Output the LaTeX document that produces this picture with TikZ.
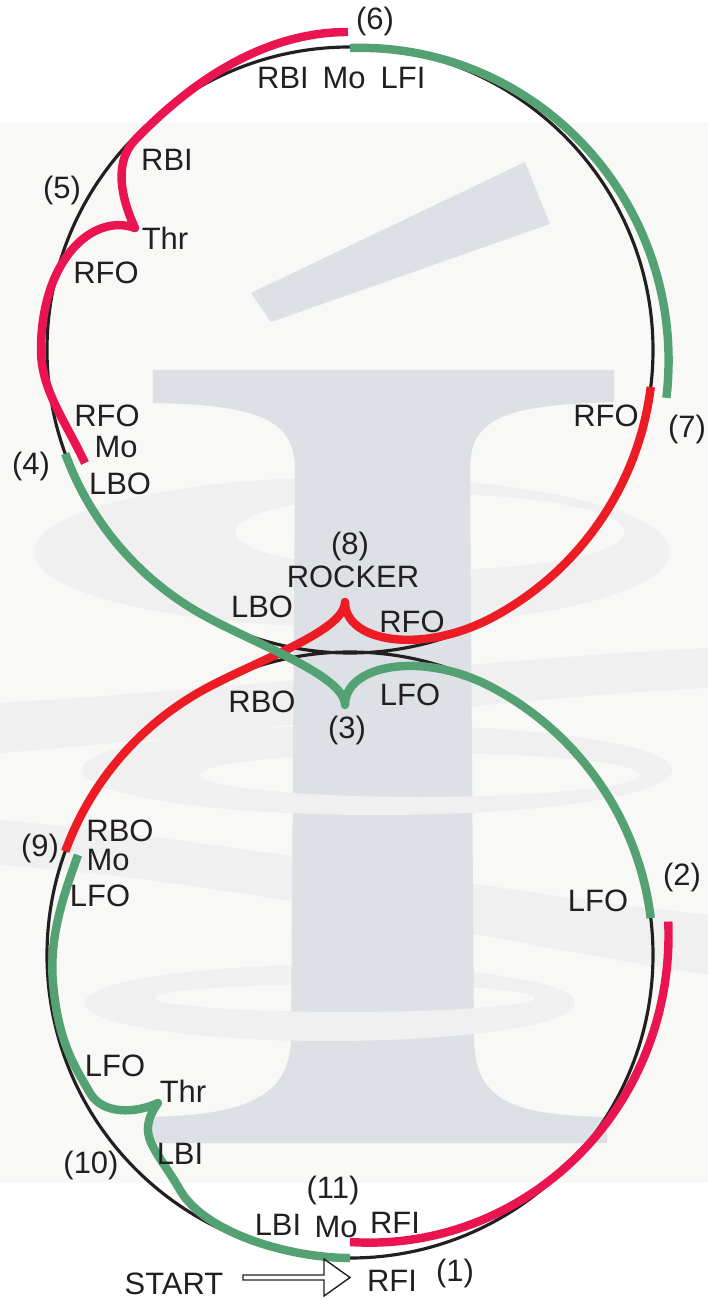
\documentclass[tikz,border=0pt]{standalone}
\usepackage{fontspec}
\setmainfont{Liberation Sans}
\usetikzlibrary{calc}
\definecolor{ink}{RGB}{35,31,32}
\definecolor{skgreen}{RGB}{84,162,116}
\definecolor{skcrimson}{RGB}{234,21,80}
\definecolor{skred}{RGB}{237,28,36}
\definecolor{rinkgrey}{RGB}{248,248,246}
\definecolor{logogrey}{RGB}{221,225,229}
\definecolor{swirlgrey}{RGB}{240,240,240}
\tikzset{
  edge/.style={line width=2.4pt,line join=round},
  lbl/.style={inner sep=0pt,text=ink,font=\fontsize{8.8}{10}\selectfont},
}
\begin{document}
\begin{tikzpicture}
  \useasboundingbox (-3.50,-6.46) rectangle (3.58,6.53);
  \coordinate (topc) at (0,3.03);
  \coordinate (botc) at (0,-3.02);
  % rink background and logo
  \fill[rinkgrey] (-3.50,-5.30) rectangle (3.58,5.30);
  \fill[swirlgrey,even odd rule] (0.02,1.01) ellipse[x radius=3.18,y radius=0.75] (0.80,1.21) ellipse[x radius=1.95,y radius=0.38];
  \fill[swirlgrey] (-3.5,-0.50) .. controls (-1,-0.35) and (1.5,-0.05) .. (3.58,0.05) -- (3.58,-0.35) .. controls (1.5,-0.45) and (-1,-0.8) .. (-3.5,-1.00) -- cycle;
  \fill[swirlgrey,even odd rule] (0.27,-1.17) ellipse[x radius=2.95,y radius=0.45] (0.70,-1.22) ellipse[x radius=2.20,y radius=0.22];
  \fill[swirlgrey] (-3.5,-1.67) .. controls (-1,-1.9) and (1.5,-2.4) .. (3.58,-2.62) -- (3.58,-3.22) .. controls (1.5,-2.9) and (-1,-2.3) .. (-3.5,-2.12) -- cycle;
  \fill[swirlgrey,even odd rule] (-0.20,-3.50) ellipse[x radius=2.45,y radius=0.38] (-0.05,-3.45) ellipse[x radius=1.90,y radius=0.14];
  \fill[logogrey] (-1.97,2.83) -- (2.64,2.83) -- (2.64,2.51) .. controls (1.50,2.48) and (1.20,2.33) .. (1.20,1.83)
    -- (1.24,-3.87) .. controls (1.26,-4.47) and (1.60,-4.62) .. (2.57,-4.64) -- (2.57,-4.90) -- (-2.01,-4.90) -- (-2.01,-4.64)
    .. controls (-1.10,-4.62) and (-0.61,-4.47) .. (-0.59,-3.87) -- (-0.55,1.83) .. controls (-0.55,2.33) and (-0.90,2.48) .. (-1.97,2.50) -- cycle;
  \fill[logogrey] (-0.99,3.60) -- (1.75,4.91) -- (2.00,4.29) -- (-0.79,3.31) -- cycle;
  \begin{scope}
    \clip (-3.5,-1.17) rectangle (3.58,-1.80);
    \fill[swirlgrey,even odd rule] (0.27,-1.17) ellipse[x radius=2.95,y radius=0.45] (0.70,-1.22) ellipse[x radius=2.20,y radius=0.22];
  \end{scope}
  \begin{scope}
    \clip (-3.5,-3.50) rectangle (3.58,-4.0);
    \fill[swirlgrey,even odd rule] (-0.20,-3.50) ellipse[x radius=2.45,y radius=0.38] (-0.05,-3.45) ellipse[x radius=1.90,y radius=0.14];
  \end{scope}
  % the two circles of the eight
  \draw[ink,line width=0.9pt] (topc) circle[radius=3.03] (botc) circle[radius=3.03];
  % (1) RFI to (2)
  \draw[edge,skcrimson] plot[domain=-90:6,samples=60] ({(2.87+0.33*(\x+90)/96)*cos(\x)},{-3.02+(2.87+0.33*(\x+90)/96)*sin(\x)});
  % (7) RFO, rocker (8), RBO to (9)
  \draw[edge,skred] ($(topc)+(-7:3.03)$) arc[start angle=-7,end angle=-62,radius=3.03]
    .. controls +(208:0.8) and +(-90:0.4) .. (-0.05,0.51)
    .. controls +(-90:0.3) and +(30:0.6) .. ($(botc)+(120:3.03)$)
    arc[start angle=120,end angle=160,radius=3.03];
  % (2) LFO, three turn (3), LBO to (4)
  \draw[edge,skgreen] ($(botc)+(7:3.03)$) arc[start angle=7,end angle=62,radius=3.03]
    .. controls +(152:0.8) and +(90:0.4) .. (-0.05,-0.52)
    .. controls +(90:0.3) and +(-30:0.6) .. ($(topc)+(240:3.03)$)
    arc[start angle=240,end angle=200,radius=3.03];
  % (4) RFO, three turn (5), RBI to (6)
  \draw[edge,skcrimson] (-2.65,1.90) .. controls +(115:0.45) and +(-90:0.4) .. (-3.09,3.03)
    .. controls +(90:0.9) and +(160:0.45) .. (-2.15,4.25)
    .. controls +(115:0.35) and +(226:0.3) .. (-2.15,5.13)
    .. controls +(46:0.8) and +(180:0.85) .. (-0.02,6.21);
  % (6) LFI to (7)
  \draw[edge,skgreen] plot[domain=-8.6:90,samples=60] ({(3.20-0.18*(\x+8.6)/98.6)*cos(\x)},{3.03+(3.20-0.18*(\x+8.6)/98.6)*sin(\x)});
  % (9) LFO, three turn (10), LBI to (11)
  \draw[edge,skgreen] (-2.72,-2.02) .. controls +(250:0.45) and +(95:0.45) .. (-2.97,-3.30)
    .. controls +(275:0.6) and +(120:0.3) .. (-2.60,-4.40)
    .. controls +(300:0.25) and +(205:0.25) .. (-1.92,-4.50)
    .. controls +(235:0.4) and +(120:0.5) .. (-1.70,-5.37)
    .. controls +(-60:0.5) and +(180:0.6) .. (0,-6.05);
  % labels
  \node[lbl] (n6) at (0.25,6.31) {(6)};
  \node[lbl] (rbi6) at (-0.67,5.75) {RBI};
  \node[lbl] (mo6) at (-0.06,5.75) {Mo};
  \node[lbl] (lfi6) at (0.53,5.75) {LFI};
  \node[lbl] (rbi5) at (-1.83,4.93) {RBI};
  \node[lbl] (n5) at (-2.88,4.62) {(5)};
  \node[lbl] (thr5) at (-1.85,4.15) {Thr};
  \node[lbl] (rfo5) at (-2.44,3.80) {RFO};
  \node[lbl] (rfo4) at (-2.43,2.37) {RFO};
  \node[lbl] (mo4) at (-2.34,2.06) {Mo};
  \node[lbl] (lbo4) at (-2.30,1.69) {LBO};
  \node[lbl] (n4) at (-3.19,1.87) {(4)};
  \node[lbl] (rfo7) at (2.56,2.37) {RFO};
  \node[lbl] (n7) at (3.37,2.24) {(7)};
  \node[lbl] (n8) at (0,1.07) {(8)};
  \node[lbl] (rocker) at (0.03,0.76) {ROCKER};
  \node[lbl] (lbo8) at (-0.88,0.46) {LBO};
  \node[lbl] (rfo8) at (0.62,0.31) {RFO};
  \node[lbl] (rbo3) at (-0.88,-0.49) {RBO};
  \node[lbl] (lfo3) at (0.60,-0.42) {LFO};
  \node[lbl] (n3) at (-0.03,-0.77) {(3)};
  \node[lbl] (rbo9) at (-2.30,-1.78) {RBO};
  \node[lbl] (n9) at (-3.10,-1.95) {(9)};
  \node[lbl] (mo9) at (-2.42,-2.07) {Mo};
  \node[lbl] (lfo9) at (-2.50,-2.43) {LFO};
  \node[lbl] (lfo2) at (2.48,-2.48) {LFO};
  \node[lbl] (n2) at (3.32,-2.24) {(2)};
  \node[lbl] (lfo10) at (-2.35,-4.13) {LFO};
  \node[lbl] (thr10) at (-1.67,-4.38) {Thr};
  \node[lbl] (lbi10) at (-1.70,-5.01) {LBI};
  \node[lbl] (n10) at (-2.59,-5.12) {(10)};
  \node[lbl] (n11) at (-0.17,-5.37) {(11)};
  \node[lbl] (lbi11) at (-0.72,-5.72) {LBI};
  \node[lbl] (mo11) at (-0.14,-5.74) {Mo};
  \node[lbl] (rfi11) at (0.45,-5.70) {RFI};
  \node[lbl] (start) at (-1.76,-6.31) {START};
  \node[lbl] (rfi1) at (0.42,-6.28) {RFI};
  \node[lbl] (n1) at (1.05,-6.20) {(1)};
  % start arrow
  \coordinate (entry) at (0,-6.245);
  \draw[ink,line width=0.4pt,fill=white] (entry) -- ++(-0.26,0.185) -- ++(0,-0.16) -- ++(-0.81,0) -- ++(0,-0.05) -- ++(0.81,0) -- ++(0,-0.16) -- cycle;
\end{tikzpicture}
\end{document}
